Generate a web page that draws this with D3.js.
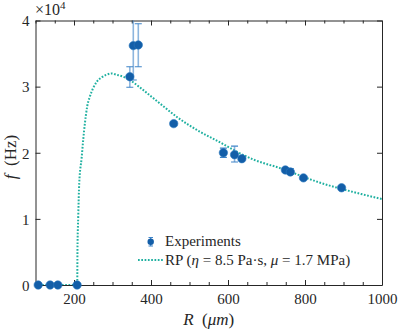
<!DOCTYPE html>
<html>
<head>
<meta charset="utf-8">
<script src="https://cdn.jsdelivr.net/npm/d3@7"></script>
</head>
<body style="margin:0">
<svg id="chart" width="399" height="330"></svg>
<script>
// Experiments: radius R (um), frequency f (x1e4 Hz) and error bar ends
var expR    = [107, 138, 158, 208, 345, 354, 367, 459, 588, 617, 636, 749, 762, 796, 895];
var expF    = [0, 0, 0, 0, 3.15, 3.62, 3.63, 2.44, 2.00, 1.97, 1.91, 1.74, 1.71, 1.62, 1.47];
var expLow  = [0, 0, 0, 0, 2.99, 3.10, 3.30, 2.41, 1.93, 1.86, 1.88, 1.71, 1.67, 1.60, 1.45];
var expHigh = [0, 0, 0, 0, 3.30, 4.30, 3.95, 2.47, 2.07, 2.10, 1.94, 1.77, 1.76, 1.64, 1.49];

// RP model curve
var rpR = [100, 150, 208.4, 209, 211, 213.6, 219.8, 224, 228.4, 234.3, 241.3, 250, 258.7,
           271.7, 284.6, 297.6, 310.6, 327.7, 345, 368.4, 420, 470, 526.5, 565.5, 669,
           734, 837.8, 950, 1000];
var rpF = [0, 0, 0, 0.53, 1.03, 1.54, 1.92, 2.20, 2.45, 2.70, 2.85, 2.98, 3.07,
           3.14, 3.18, 3.20, 3.18, 3.15, 3.10, 3.00, 2.76, 2.53, 2.32, 2.20, 1.89,
           1.77, 1.55, 1.37, 1.30];

var xTicks = [200, 400, 600, 800, 1000];
var xMinor = d3.range(100, 1001, 50);
var yTicks = [0, 1, 2, 3, 4];

var margin = { left: 35.5, right: 17, top: 20.5, bottom: 45 };
var W = 399, H = 330;
var serif = 'Liberation Serif';
var axisColor = '#262626';

var svg = d3.select('#chart');

var x = d3.scaleLinear().domain([100, 1000]).range([margin.left, W - margin.right]);
var y = d3.scaleLinear().domain([0, 4]).range([H - margin.bottom, margin.top]);

function label(sel, size) {
  return sel.attr('font-family', serif).attr('font-size', size).attr('fill', axisColor);
}

svg.append('clipPath').attr('id', 'clip')
  .append('rect')
    .attr('x', x(100)).attr('y', y(4))
    .attr('width', x(1000) - x(100)).attr('height', y(0) - y(4));

// Axes: inward ticks like the original, box on all sides
function tickLen(d) { return xTicks.indexOf(d) >= 0 ? 5 : 3; }

svg.append('g')
  .attr('transform', 'translate(0,' + y(0) + ')')
  .call(d3.axisBottom(x).tickValues(xMinor).tickSizeInner(0).tickSizeOuter(0)
    .tickFormat(function(d) { return xTicks.indexOf(d) >= 0 ? d : ''; }))
  .call(function(g) {
    label(g, 15);
    g.select('.domain').attr('stroke', axisColor);
    g.selectAll('.tick line').attr('y2', function(d) { return -tickLen(d); }).attr('stroke', axisColor);
    g.selectAll('.tick text').attr('dy', 0).attr('y', 19).attr('fill', axisColor);
  });

svg.append('g')
  .attr('transform', 'translate(0,' + y(4) + ')')
  .call(d3.axisTop(x).tickValues(xMinor).tickSizeInner(0).tickSizeOuter(0).tickFormat(''))
  .call(function(g) {
    g.select('.domain').attr('stroke', axisColor);
    g.selectAll('.tick line').attr('y2', function(d) { return tickLen(d); }).attr('stroke', axisColor);
  });

svg.append('g')
  .attr('transform', 'translate(' + x(100) + ',0)')
  .call(d3.axisLeft(y).tickValues(yTicks).tickSizeInner(0).tickSizeOuter(0).tickFormat(d3.format('d')))
  .call(function(g) {
    label(g, 15);
    g.select('.domain').attr('stroke', axisColor);
    g.selectAll('.tick line').attr('x2', 5).attr('stroke', axisColor);
    g.selectAll('.tick text').attr('x', -6).attr('dy', '0.35em').attr('fill', axisColor);
  });

svg.append('g')
  .attr('transform', 'translate(' + x(1000) + ',0)')
  .call(d3.axisRight(y).tickValues(yTicks).tickSizeInner(0).tickSizeOuter(0).tickFormat(''))
  .call(function(g) {
    g.select('.domain').attr('stroke', axisColor);
    g.selectAll('.tick line').attr('x2', -5).attr('stroke', axisColor);
  });

// Exponent label
var expo = label(svg.append('text'), 16).attr('x', 35).attr('y', 15);
expo.append('tspan').text('\u00d710');
expo.append('tspan').attr('dy', -6).attr('font-size', 11).text('4');

// Axis titles
var yl = label(svg.append('text'), 17)
  .attr('transform', 'translate(16,157) rotate(-90)')
  .attr('text-anchor', 'middle');
yl.append('tspan').attr('font-style', 'italic').text('f');
yl.append('tspan').text('\u2002(Hz)');

var xl = label(svg.append('text'), 17)
  .attr('x', (x(100) + x(1000)) / 2).attr('y', 325)
  .attr('text-anchor', 'middle');
xl.append('tspan').attr('font-style', 'italic').text('R');
xl.append('tspan').text('\u2002(');
xl.append('tspan').attr('font-style', 'italic').text('\u03bcm');
xl.append('tspan').text(')');

// RP curve
var teal = '#1fb0a0';
var line = d3.line()
  .x(function(d) { return x(d[0]); })
  .y(function(d) { return y(d[1]); })
  .curve(d3.curveMonotoneX);

var plot = svg.append('g').attr('clip-path', 'url(#clip)');

plot.append('path')
  .datum(d3.zip(rpR, rpF))
  .attr('d', line)
  .attr('fill', 'none')
  .attr('stroke', teal)
  .attr('stroke-width', 2)
  .attr('stroke-dasharray', '1.7,1.6');

// Experiments
var blue = '#135ea8';
var errBlue = '#3f84c8';
var pts = d3.range(expR.length).map(function(i) {
  return { r: expR[i], f: expF[i], lo: expLow[i], hi: expHigh[i] };
});

var errs = plot.selectAll('.err').data(pts.filter(function(d) { return d.hi > d.lo; }))
  .enter().append('g').classed('err', true);

errs.append('line')
  .attr('x1', function(d) { return x(d.r); })
  .attr('x2', function(d) { return x(d.r); })
  .attr('y1', function(d) { return y(d.lo); })
  .attr('y2', function(d) { return y(d.hi); })
  .attr('stroke', errBlue).attr('stroke-opacity', 0.6).attr('stroke-width', 1.6);

['lo', 'hi'].forEach(function(k) {
  errs.append('line')
    .attr('x1', function(d) { return x(d.r) - 3.5; })
    .attr('x2', function(d) { return x(d.r) + 3.5; })
    .attr('y1', function(d) { return y(d[k]); })
    .attr('y2', function(d) { return y(d[k]); })
    .attr('stroke', errBlue).attr('stroke-width', 1.1);
});

svg.selectAll('.pt').data(pts).enter().append('circle')
  .classed('pt', true)
  .attr('cx', function(d) { return x(d.r); })
  .attr('cy', function(d) { return y(d.f); })
  .attr('r', 4.2)
  .attr('fill', blue)
  .attr('stroke', '#2a78c0')
  .attr('stroke-width', 0.6);

// Legend
var leg = svg.append('g');
leg.append('line')
  .attr('x1', 150.7).attr('x2', 150.7).attr('y1', 237.5).attr('y2', 246)
  .attr('stroke', errBlue).attr('stroke-width', 1.2);
[237.5, 246].forEach(function(yy) {
  leg.append('line').attr('x1', 148.5).attr('x2', 153).attr('y1', yy).attr('y2', yy)
    .attr('stroke', errBlue).attr('stroke-width', 1);
});
leg.append('circle').attr('cx', 150.7).attr('cy', 241.7).attr('r', 3.2).attr('fill', blue);
label(leg.append('text'), 15).attr('x', 165).attr('y', 246).text('Experiments');

leg.append('line')
  .attr('x1', 138).attr('x2', 163).attr('y1', 260).attr('y2', 260)
  .attr('stroke', teal).attr('stroke-width', 2).attr('stroke-dasharray', '1.7,1.6');
var lt = label(leg.append('text'), 15).attr('x', 165).attr('y', 264.5);
lt.append('tspan').text('RP (');
lt.append('tspan').attr('font-style', 'italic').text('\u03b7');
lt.append('tspan').text(' = 8.5 Pa\u00b7s, ');
lt.append('tspan').attr('font-style', 'italic').text('\u03bc');
lt.append('tspan').text(' = 1.7 MPa)');
</script>
</body>
</html>
